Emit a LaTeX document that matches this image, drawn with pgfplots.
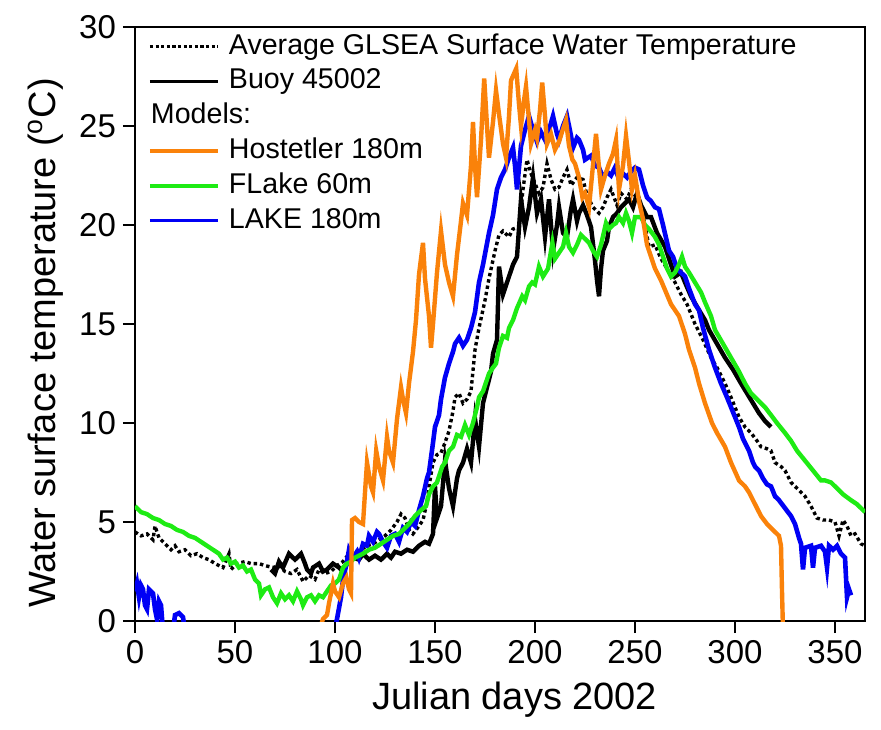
\documentclass[border=0pt]{standalone}
\usepackage{pgfplots}
\pgfplotsset{compat=1.18}
\usepackage{pgfplotstable}
\usepackage{fontspec}
\setmainfont{Liberation Sans}

\definecolor{hostorange}{RGB}{250,130,10}
\definecolor{flakegreen}{RGB}{30,235,20}
\definecolor{lakeblue}{RGB}{0,0,245}

% Average GLSEA surface water temperature (dotted)
\pgfplotstableread{
day temp
0 4.5
3 4.3
6 4.4
9 4.1
10 4.8
12 4.2
15 3.9
18 3.6
20 3.8
22 3.5
25 3.6
28 3.3
31 3.4
34 3.2
37 3.1
40 2.9
44 2.7
47 3.4
48 2.6
51 2.9
55 3.0
58 2.9
62 2.9
65 2.8
69 2.7
72 2.8
75 2.5
78 2.4
81 2.6
84 2.0
87 2.3
90 2.1
92 2.6
95 2.4
98 2.5
101 2.8
104 3.0
107 3.4
110 3.5
113 3.6
116 3.8
119 3.9
122 4.1
125 4.3
128 4.6
131 5.0
133 5.4
135 5.2
137 4.6
139 4.4
142 4.8
144 5.1
146 6.0
147 6.8
149 8.0
151 8.4
153 8.5
155 9.0
157 9.6
159 10.6
160 11.3
162 11.5
164 11.0
166 11.2
168 11.6
170 13.7
172 14.8
175 16.2
177 17.3
180 18.7
182 19.5
184 19.7
187 19.4
189 19.8
192 19.9
194 21.8
196 23.3
198 22.6
200 22.1
202 21.6
204 21.9
206 23.1
208 22.3
210 21.8
212 21.9
214 22.4
216 22.8
218 22.0
221 22.4
224 22.3
226 21.5
229 20.9
232 20.6
234 20.9
236 21.4
238 21.8
241 21.0
243 21.6
246 21.3
248 21.8
250 21.5
252 21.2
254 20.5
257 18.9
260 19.0
263 18.3
266 17.8
270 17.1
273 16.5
276 16.0
280 15.0
284 14.2
288 13.3
291 12.8
295 12.0
298 11.3
302 10.3
305 9.8
308 9.5
311 9.1
313 8.8
316 8.7
318 8.6
320 8.0
323 7.8
325 7.6
328 7.0
332 6.6
335 6.3
338 5.8
341 5.2
344 5.1
347 5.1
350 5.0
352 4.3
354 5.1
356 4.8
358 4.3
360 4.4
363 3.9
365 3.8
}\glsea

% Buoy 45002
\pgfplotstableread{
day temp
68 2.6
70 2.4
72 3.0
74 2.7
77 3.4
80 3.1
83 3.4
85 2.9
86 2.6
88 2.4
89 2.7
92 2.9
94 2.5
96 2.6
99 2.9
102 2.7
104 2.5
106 2.9
109 3.2
112 3.1
114 3.4
117 3.1
120 3.3
123 3.1
126 3.4
128 3.2
130 3.5
133 3.4
136 3.6
139 3.5
142 3.8
145 4.0
147 3.9
149 4.4
150 6.8
151 5.2
153 5.8
155 8.1
157 6.7
159 5.8
161 7.2
162 7.6
164 8.0
166 8.7
168 8.0
170 10.2
172 8.8
174 11.0
176 11.8
178 12.6
179 13.5
181 14.2
182 17.9
184 16.5
185 16.8
187 17.4
189 18.0
191 18.4
193 21.3
195 19.9
197 20.9
199 22.4
201 20.6
203 21.3
205 19.4
207 21.3
209 18.7
211 20.0
212 20.9
214 19.6
216 19.4
218 20.8
219 21.3
221 20.2
222 20.6
224 21.0
226 20.5
228 19.9
230 18.2
231 17.2
232 16.4
233 17.8
234 18.7
236 19.2
237 19.9
239 20.4
241 20.6
243 20.9
245 21.1
247 21.3
249 20.9
251 21.6
253 21.0
256 20.4
258 20.4
261 19.6
265 18.9
268 18.0
270 17.4
273 17.6
275 17.1
278 16.4
282 15.7
285 15.2
287 14.7
291 14.0
295 13.3
299 12.7
303 12.0
306 11.5
309 11.0
312 10.5
315 10.1
318 9.8
}\buoy

% LAKE 180m
\pgfplotstableread{
day temp
0 1.5
1 1.9
2 1.2
3 1.8
4 1.6
5 0.8
6 0.6
7 1.6
8 1.5
9 1.4
10 0.6
11 0.1
12 1.0
13 0.8
14 -0.5
19 -0.5
20 0.3
22 0.4
24 0.2
25 -0.5
27 -1
98 -1
100 -0.3
101 0.1
103 1.2
104 2.1
106 3.0
107 3.6
109 3.2
111 3.5
112 3.2
114 3.9
116 3.8
117 4.3
119 4.0
121 4.5
122 4.4
124 4.0
126 3.7
128 4.3
130 4.4
132 4.0
134 4.7
136 4.5
138 5.0
140 4.8
142 5.6
144 6.3
146 7.2
147 7.5
149 9.0
150 9.8
152 10.4
153 11.2
155 12.3
157 13.0
159 13.6
160 14.0
162 14.3
164 13.9
166 14.2
168 14.8
170 15.6
172 17.1
174 18.0
177 19.6
179 20.5
181 21.8
183 22.4
185 22.8
187 23.4
189 23.9
190 23.0
191 21.8
193 24.0
195 24.8
197 25.5
199 24.8
201 24.2
203 24.7
205 24.3
207 24.8
209 25.5
211 24.6
212 24.3
214 25.0
216 25.5
218 24.5
219 23.9
221 24.4
222 24.3
224 23.8
225 23.3
228 23.5
230 23.0
232 22.9
234 22.4
236 22.7
238 22.5
240 22.9
242 22.3
244 22.6
246 22.4
248 22.7
250 22.9
252 22.8
254 22.0
256 21.4
258 21.2
260 20.9
262 20.8
264 20.0
267 18.7
269 18.4
271 17.8
273 17.6
275 17.4
277 16.8
280 16.0
282 15.7
284 14.8
287 13.7
290 12.8
293 12.0
296 11.3
298 10.8
300 10.3
302 9.8
304 9.2
307 8.6
309 8.0
310 7.8
312 7.6
314 7.2
316 6.9
318 6.8
320 6.3
322 6.1
325 5.7
328 5.3
330 4.9
332 4.2
333 3.9
334 2.6
335 3.7
338 3.8
339 2.7
340 3.7
343 3.8
345 3.5
346 2.7
347 3.8
349 3.6
351 3.8
353 3.4
355 3.2
356 1.2
357 1.6
358 1.3
}\lake

% FLake 60m
\pgfplotstableread{
day temp
0 5.8
3 5.5
6 5.4
9 5.2
12 5.1
15 4.9
18 4.8
21 4.6
24 4.5
27 4.3
30 4.2
33 4.0
36 3.8
39 3.6
42 3.4
44 3.1
46 3.2
48 2.9
50 3.0
52 2.7
54 2.8
56 2.5
58 2.6
60 2.1
62 1.9
63 1.3
65 1.6
67 1.7
69 1.2
71 0.9
73 1.4
75 1.1
77 1.3
79 1.0
81 1.5
83 1.1
84 0.8
86 1.2
88 1.3
90 1.0
92 1.3
94 1.2
96 1.5
98 1.8
100 1.9
102 2.1
104 2.7
106 2.9
108 3.0
110 3.2
112 3.3
114 3.4
117 3.6
120 3.7
123 3.9
126 4.1
129 4.3
132 4.4
134 4.6
137 4.9
140 5.3
143 5.6
145.5 5.8
147 6.4
149 6.8
151 7.0
153.6 7.8
155 8.0
157 8.6
159 8.8
161 9.4
163 9.3
165 9.9
167 9.4
169 10.0
171 10.8
172 11.3
174 11.6
176 12.2
177 12.5
179 12.8
180.5 13.0
182 13.8
184 14.4
186 14.3
187 14.8
189 15.2
191 15.8
193.6 16.4
195 16.2
197 16.9
198.6 17.1
200 17.0
202 17.9
204 17.4
206.5 17.8
208.7 19.1
210 18.3
212 18.6
214 18.9
215.5 19.6
217 18.9
219 18.6
221 19.0
223 19.5
225 19.3
227 19.1
229 18.7
231 18.4
233 19.0
235.5 20.1
237 19.8
239 20.0
240.5 20.1
242 20.4
244 20.1
245.5 20.6
247 20.2
248.5 19.6
250 20.4
253 20.4
255 20.0
257 19.8
260 19.4
262 19.0
264 18.4
266 17.8
268 17.4
270 17.6
272 18.0
273.5 18.4
275 17.9
277 17.6
280 17.1
283 16.6
285 16.1
288 15.4
290 14.7
294 14.0
298 13.3
302 12.6
305 12.0
308 11.5
311 11.2
315 10.8
318 10.4
321 10.0
325 9.5
328 9.1
331 8.6
335 8.1
339 7.6
343 7.1
345 7.1
348 7.0
351 6.7
354 6.4
358 6.1
361 5.9
365 5.5
}\flake

% Hostetler 180m
\pgfplotstableread{
day temp
92 -0.5
94 0.1
96 0.3
97 0.9
99 1.9
100 1.5
102 1.2
104 1.9
105.7 2.2
107 1.6
108 1.4
108.5 5.1
110 5.2
112 5.0
114 4.9
115 6.5
116 8.0
118 6.8
119 6.5
120.6 8.6
122 7.8
124 7.1
126 9.3
127 8.6
129 8.0
131 10.2
133 11.8
134 11.2
135.5 10.5
137 12.0
139 13.6
140.5 15.2
142 17.5
144 19.1
145 17.3
147 15.4
148 13.8
149 15.0
151 17.6
153 19.7
155 18.0
157 17.1
159 16.4
161 18.5
163 20.2
164 21.1
166 20.5
168 23.0
169 25.2
170 23.0
171 21.4
173 24.3
174.6 27.4
176 25.0
177 23.4
179 25.2
180.5 26.8
182 25.6
184 24.1
185.5 23.4
187 25.5
188 27.3
190.6 27.9
192 26.1
193 25.0
194.5 26.3
195.5 27.0
197 25.3
198 24.1
200 24.8
201 24.4
202.5 25.8
203.6 27.2
205 25.5
206 24.1
208 24.6
210 23.8
212 24.2
213.5 24.7
215.5 25.3
217 24.0
218.7 23.3
220 23.1
222 22.4
223.7 21.4
225 21.6
227 20.9
228.5 22.5
230.5 24.6
232 22.9
233 21.8
235 22.5
237 23.1
239 23.6
240.5 24.3
242 21.8
244 23.0
245.5 24.5
247 23.2
248.5 21.8
250 22.5
252 21.2
254 20.3
256 19.0
257 18.7
260 17.8
263 17.2
265.5 16.6
268 16.0
270 15.7
272 15.4
275 14.5
277 13.7
280 12.8
282 12.0
285 11.0
288.5 10.0
291 9.5
295 8.8
298 8.0
302 7.1
305 6.8
307 6.5
310 5.9
313 5.3
316 4.9
319 4.6
322 4.3
323 3.8
323.5 1.5
324 -0.5
}\hostetler

\begin{document}
\begin{tikzpicture}
\begin{axis}[
  width=365pt, height=297pt, scale only axis,
  xmin=0, xmax=365, ymin=0, ymax=30,
  xtick={0,50,...,350}, ytick={0,5,...,30},
  xtick pos=left, ytick pos=left,
  tick align=outside, major tick length=6pt,
  axis line style={line width=1.3pt},
  every tick/.style={black, line width=1.3pt},
  /pgf/number format/assume math mode=true,
  tick label style={font=\fontsize{16.5}{19}\selectfont},
  label style={font=\fontsize{19}{22}\selectfont},
  xlabel={Julian days 2002},
  ylabel={Water surface temperature (\textsuperscript{o}C)},
  xlabel style={at={(axis description cs:0.52,-0.133)}, anchor=center},
  ylabel style={at={(axis description cs:-0.123,0.468)}, anchor=center},
  legend cell align=left,
  legend style={draw=none, fill=none, at={(axis description cs:0.009,0.997)}, anchor=north west,
    font=\fontsize{14.3}{17}\selectfont, row sep=3.9pt,
    nodes={inner sep=0pt, text height=10.5pt, text depth=3pt}},
  legend image code/.code={\draw[#1] (0pt,0pt) -- (34pt,0pt);},
]
\addlegendimage{black, line width=1.4pt, dash pattern=on 1.6pt off 1.2pt}
\addlegendentry{\hspace*{4.5pt}Average GLSEA Surface Water Temperature}
\addlegendimage{black, line width=1.6pt}
\addlegendentry{\hspace*{4.5pt}Buoy 45002}
\addlegendimage{empty legend}
\addlegendentry{\hspace*{-34.5pt}Models:}
\addlegendimage{hostorange, line width=1.8pt}
\addlegendentry{\hspace*{4.5pt}Hostetler 180m}
\addlegendimage{flakegreen, line width=2pt}
\addlegendentry{\hspace*{4.5pt}FLake 60m}
\addlegendimage{lakeblue, line width=1.4pt}
\addlegendentry{\hspace*{4.5pt}LAKE 180m}

\addplot[forget plot, black, line width=1.7pt, dash pattern=on 1.7pt off 1.5pt] table {\glsea};
\addplot[forget plot, black, line width=2.2pt] table {\buoy};
\addplot[forget plot, lakeblue, line width=2.3pt] table {\lake};
\addplot[forget plot, flakegreen, line width=2.2pt] table {\flake};
\addplot[forget plot, hostorange, line width=2.2pt] table {\hostetler};
\end{axis}
\pgfresetboundingbox
\path ([shift={(-67.5pt,-54pt)}]current axis.south west) rectangle ([shift={(8pt,13.5pt)}]current axis.north east);
\end{tikzpicture}
\end{document}
